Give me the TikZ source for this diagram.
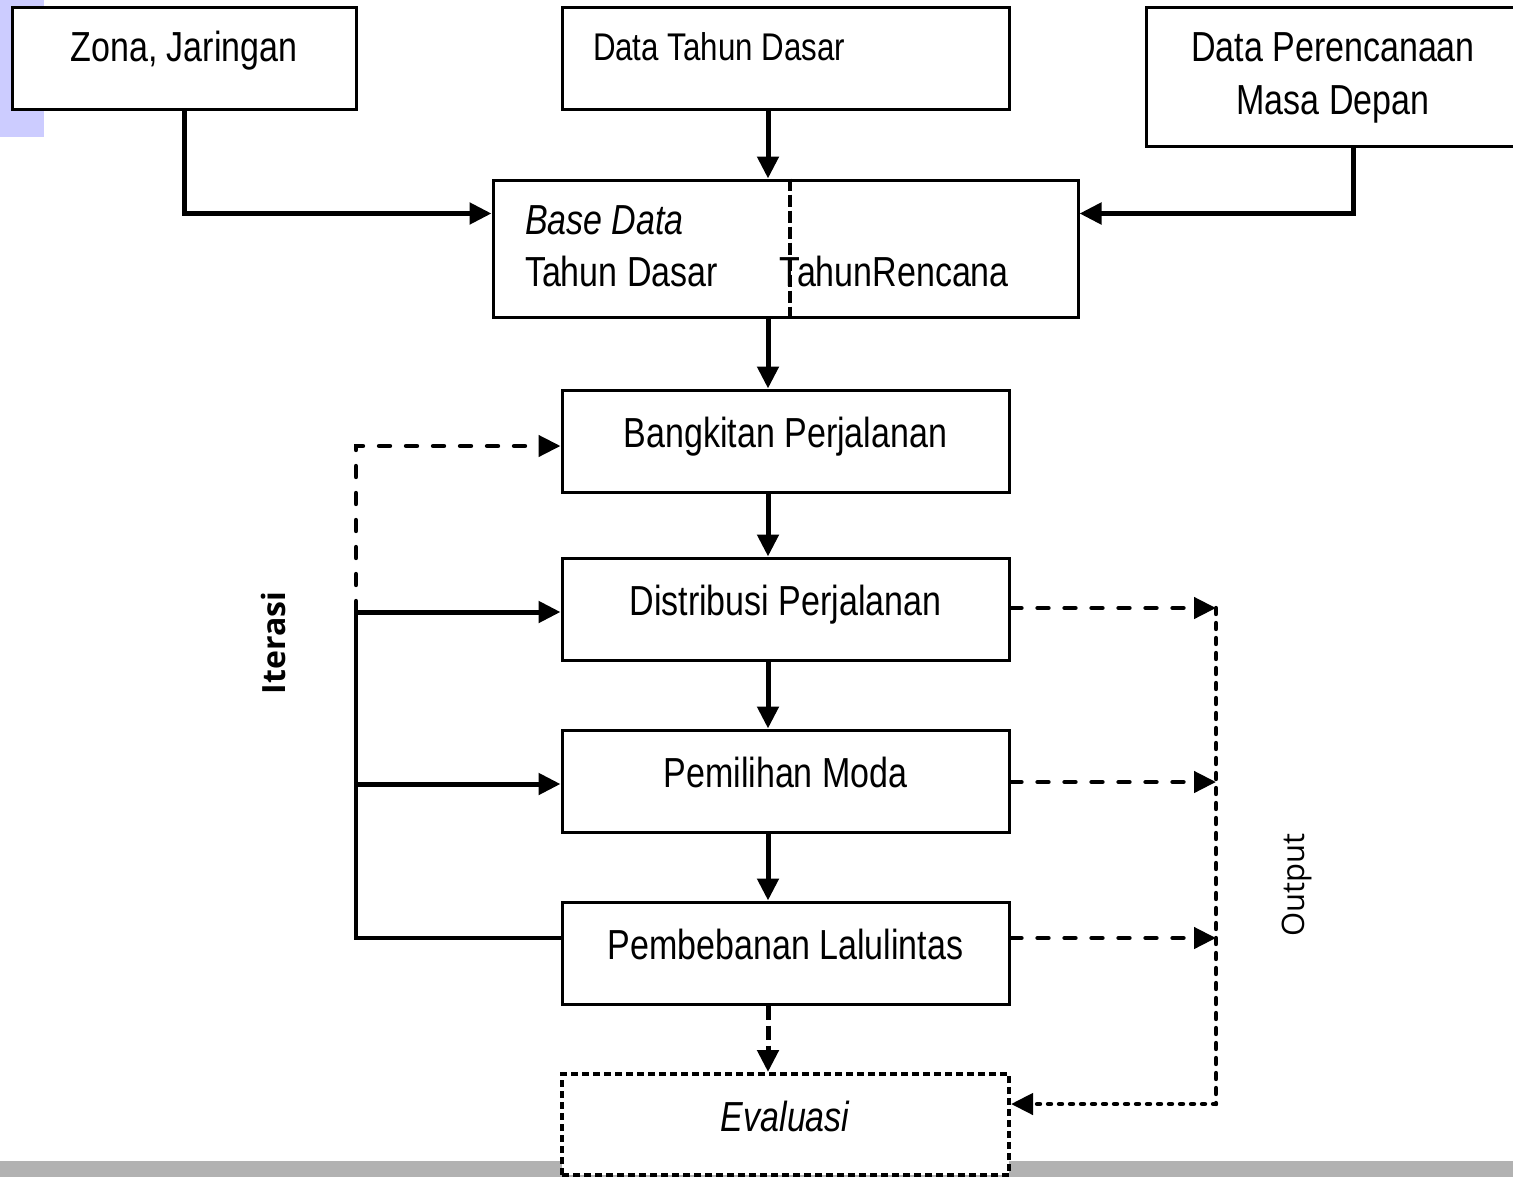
\documentclass[tikz,border=0pt]{standalone}
\usepackage{fontspec}
\setmainfont{Liberation Sans}[FakeStretch=0.81]
\newfontfamily\sidefont{Open Sans}
\usepackage{tikz}
\usetikzlibrary{arrows.meta}
\definecolor{barabu}{RGB}{178,178,178}
\definecolor{ungu}{RGB}{204,204,255}
\newcommand\spasi{\spaceskip=0.225em\relax}

\begin{document}
\begin{tikzpicture}[x=0.5pt,y=-0.5pt,
	every node/.style={rectangle,inner sep=0pt,font=\fontsize{21}{26}\selectfont},
	kotak/.style={draw,line width=1.5pt,fill=white,minimum width=223.5pt,minimum height=51pt,text height=16pt,text depth=10pt},
	panah/.style={line width=2.5pt,-{Triangle[length=11pt,width=10.5pt]}},
	putus/.style={panah,line width=2.2pt,line cap=round,dash pattern=on 5.5pt off 8pt},
	garis/.style={line width=1.6pt}]
	\useasboundingbox (0,0) rectangle (1513,1177);
	\fill[ungu] (0,0) rectangle (44,137);
	\fill[barabu] (0,1161) rectangle (1513,1177);

	\node[kotak,minimum width=172pt,text depth=13pt] (zona) at (184,59) {Zona, Jaringan};
	\node[kotak,align=left,inner xsep=15.5pt,text width=192.5pt,text depth=14pt,font=\fontsize{19.3}{24}\selectfont] (dtd) at (785.5,59) {\spasi Data Tahun Dasar};
	\node[kotak,minimum width=187pt,minimum height=69pt,align=center,text width=187pt,text depth=31pt] (dpm) at (1333,77) {\spasi Data Perencanaan\\Masa Depan};
	\node[kotak,minimum width=292.5pt,minimum height=68.5pt,align=left,text width=260.5pt,text depth=30.5pt] (base) at (785.5,248.5) {\spasi\textit{Base Data}\\\makebox[127.5pt][l]{Tahun Dasar}TahunRencana};
	\node[kotak] (bangkitan) at (785.5,441) {Bangkitan Perjalanan};
	\node[kotak] (distribusi) at (785.5,609) {Distribusi Perjalanan};
	\node[kotak] (moda) at (785.5,781) {Pemilihan Moda};
	\node[kotak] (beban) at (785.5,953) {Pembebanan Lalulintas};
	\node[kotak,line width=2pt,minimum height=50.5pt,text depth=9.5pt,dash pattern=on 3.5pt off 2pt] (eval) at (785.5,1124.5) {\textit{Evaluasi}};

	\node[rotate=90,font=\sidefont\bfseries\fontsize{16}{19}\selectfont] (iterasi) at (273,643) {Iterasi};
	\node[rotate=90,font=\sidefont\fontsize{15.5}{19}\selectfont] (output) at (1297,885) {Output};

	\coordinate (itA) at (356,446);
	\coordinate (itB) at (356,612);
	\coordinate (itC) at (356,784);
	\coordinate (itD) at (356,938);
	\coordinate (outA) at (1216,608);
	\coordinate (outB) at (1216,782);
	\coordinate (outC) at (1216,938);
	\coordinate (outD) at (1216,1104);
	\coordinate (bagi) at (790,0);

	\draw[line width=1.6pt,dash pattern=on 6pt off 2pt] (base.north -| bagi) -- (base.south -| bagi);

	\draw[panah] (zona.south) |- ([yshift=17.5pt]base.west);
	\draw[panah] ([xshift=10pt]dpm.south) |- ([yshift=17.5pt]base.east);
	\foreach \from/\to in {dtd/base,base/bangkitan,bangkitan/distribusi,distribusi/moda,moda/beban}
		\draw[panah] ([xshift=-8.75pt]\from.south) -- ([xshift=-8.75pt]\to.north);
	\draw[panah,dash pattern=on 7pt off 3pt] ([xshift=-8.75pt]beban.south) -- ([xshift=-8.75pt]eval.north);

	\draw[garis] (beban.west |- itD) -- (itD) -- (itB);
	\foreach \pt/\to in {itB/distribusi,itC/moda}
		\draw[panah] (\pt) -- (\pt -| \to.west);
	\draw[putus] (itB) -- (itA) -- (itA -| bangkitan.west);

	\foreach \from/\pt in {distribusi/outA,moda/outB,beban/outC}
		\draw[putus] (\pt -| \from.east) -- (\pt);
	\draw[line width=2.2pt,line cap=round,dash pattern=on 3pt off 4.5pt] (outA) -- (outD);
	\draw[putus,dash pattern=on 1.5pt off 4pt] (outD) -- (outD -| eval.east);
\end{tikzpicture}
\end{document}
